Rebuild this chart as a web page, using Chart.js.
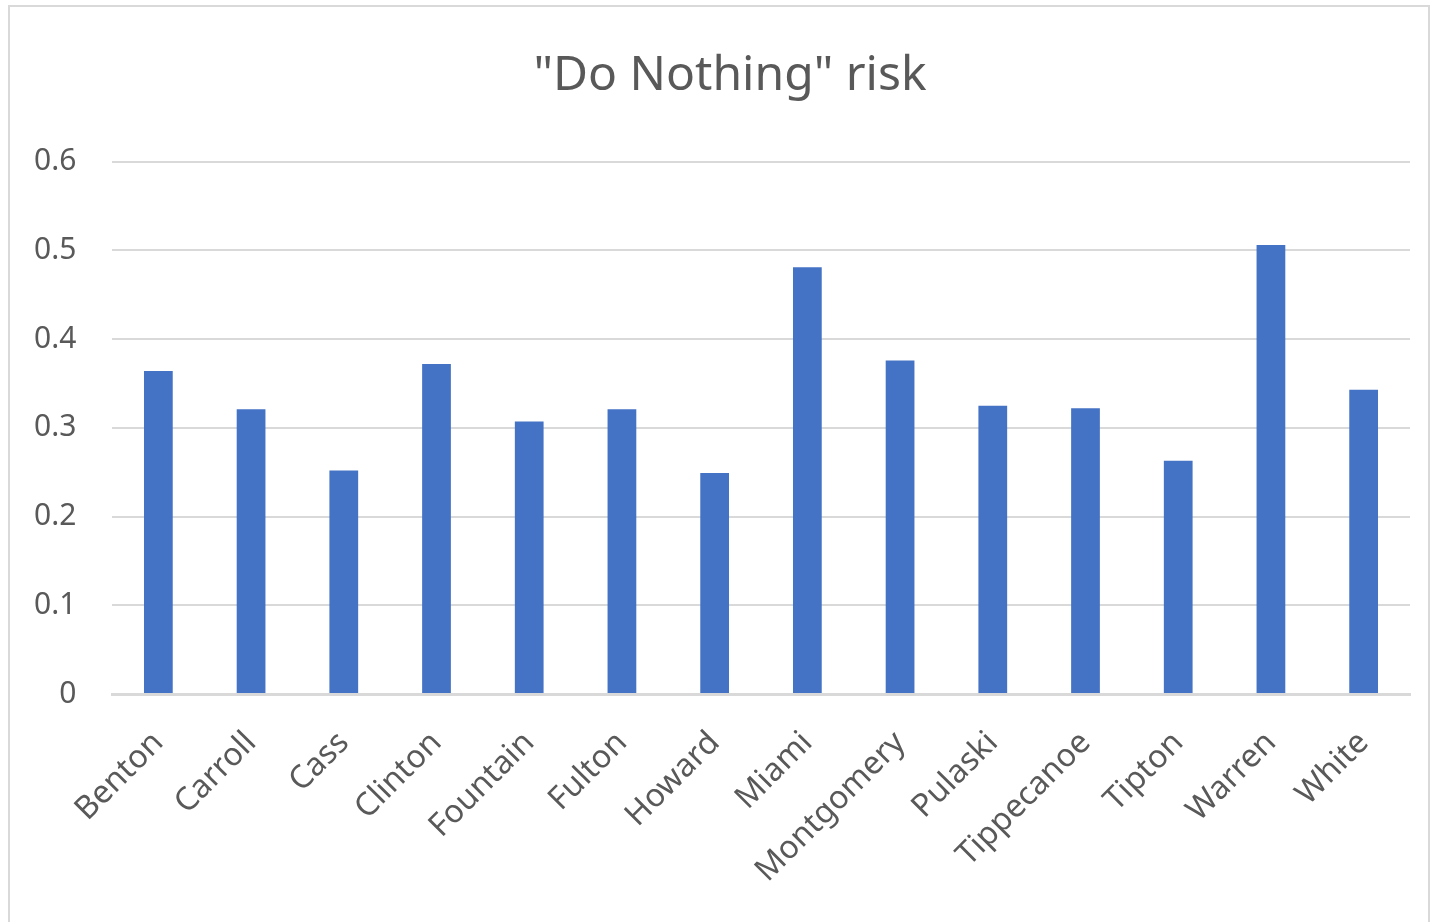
<!DOCTYPE html>
<html>
<head>
<meta charset="utf-8">
<script src="https://cdn.jsdelivr.net/npm/chart.js@4"></script>
<style>
  html, body { margin: 0; padding: 0; background: #fff; }
  #frame {
    position: absolute; left: 8px; top: 5px;
    width: 1422px; height: 930px;
    border: 2px solid #d9d9d9; box-sizing: border-box;
  }
  #wrap { position: absolute; left: 0; top: 0; width: 1434px; height: 922px; }
</style>
</head>
<body>
<div id="frame"></div>
<div id="wrap"><canvas id="riskChart"></canvas></div>
<script>
const counties = ["Benton", "Carroll", "Cass", "Clinton", "Fountain", "Fulton", "Howard",
  "Miami", "Montgomery", "Pulaski", "Tippecanoe", "Tipton", "Warren", "White"];
const risk = [0.364, 0.321, 0.252, 0.372, 0.307, 0.321, 0.249,
  0.481, 0.376, 0.325, 0.322, 0.263, 0.506, 0.343];
const yTicks = [0, 0.1, 0.2, 0.3, 0.4, 0.5, 0.6];

const grey = "#595959";
const font = "'Noto Sans', sans-serif";

const riskChart = new Chart(document.getElementById("riskChart"), {
  type: "bar",
  data: {
    labels: counties,
    datasets: [{
      label: "risk",
      data: risk,
      backgroundColor: "#4472c4",
      barPercentage: 0.31,
      categoryPercentage: 1,
    }],
  },
  options: {
    responsive: true,
    maintainAspectRatio: false,
    animation: false,
    layout: { padding: { left: 50, right: 24, top: 30, bottom: 2 } },
    plugins: {
      legend: { display: false },
      tooltip: { enabled: false },
      title: {
        display: true,
        text: '"Do Nothing" risk',
        color: grey,
        font: { family: font, size: 48, weight: "normal" },
        padding: { top: 18, bottom: 56 },
      },
    },
    scales: {
      x: {
        grid: { display: false, drawTicks: false },
        border: { color: "#d9d9d9", width: 3 },
        ticks: {
          color: grey,
          font: { family: font, size: 32 },
          maxRotation: 45,
          minRotation: 45,
          padding: 30,
        },
      },
      y: {
        min: 0,
        max: 0.6,
        afterBuildTicks: (axis) => { axis.ticks = yTicks.map(v => ({ value: v })); },
        afterFit: (axis) => { axis.width = 62; },
        grid: { color: "#d9d9d9", lineWidth: 2, drawTicks: false },
        border: { display: false },
        ticks: {
          color: grey,
          font: { family: font, size: 30 },
          // mirrored so the labels can sit left of the narrow axis box unclipped
          mirror: true,
          crossAlign: "far",
          padding: -78,
          callback: (v) => String(v),
        },
      },
    },
  },
});
</script>
</body>
</html>
